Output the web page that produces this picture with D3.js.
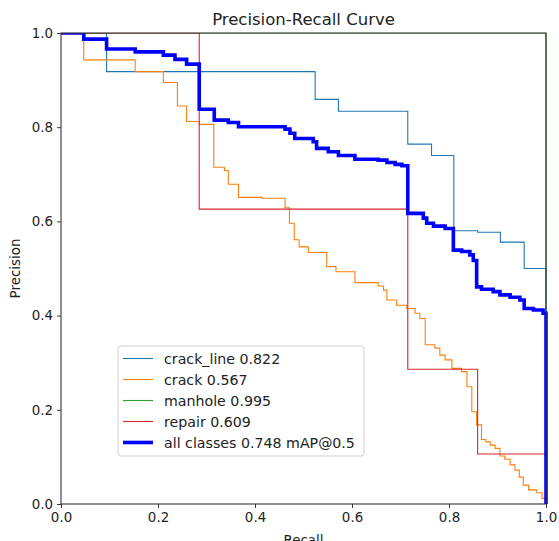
<!DOCTYPE html>
<html>
<head>
<meta charset="utf-8">
<script src="https://cdn.jsdelivr.net/npm/d3@7"></script>
<style>
  body { margin: 0; background: #fff; }
  svg { display: block; font-family: "DejaVu Sans", sans-serif; }
</style>
</head>
<body>
<svg id="grafico" width="559" height="541"></svg>
<script>
// Curvas PR: pares [recall, precision], cada ponto inicia um degrau
const crackLine = [[0, 1], [0.094, 0.918], [0.524, 0.859], [0.572, 0.834], [0.715, 0.764],
  [0.764, 0.740], [0.810, 0.580], [0.859, 0.577], [0.906, 0.556], [0.955, 0.500], [1.0, 0]];

const crack = [[0, 1], [0.047, 0.943], [0.153, 0.918], [0.211, 0.895], [0.240, 0.845],
  [0.259, 0.812], [0.285, 0.806], [0.315, 0.715], [0.337, 0.708], [0.345, 0.679],
  [0.366, 0.651], [0.414, 0.649], [0.462, 0.629], [0.471, 0.596], [0.481, 0.561],
  [0.491, 0.546], [0.510, 0.534], [0.548, 0.504], [0.567, 0.493], [0.606, 0.470],
  [0.654, 0.463], [0.665, 0.454], [0.672, 0.433], [0.692, 0.422], [0.713, 0.415],
  [0.730, 0.405], [0.740, 0.394], [0.751, 0.338], [0.771, 0.331], [0.781, 0.316],
  [0.792, 0.306], [0.806, 0.288], [0.826, 0.281], [0.837, 0.249], [0.847, 0.196],
  [0.857, 0.168], [0.867, 0.137], [0.876, 0.132], [0.885, 0.125], [0.895, 0.118],
  [0.905, 0.102], [0.915, 0.095], [0.926, 0.083], [0.936, 0.072], [0.945, 0.057],
  [0.953, 0.040], [0.964, 0.030], [0.981, 0.024], [0.992, 0.012], [1.0, 0]];

const manhole = [[0, 1], [1.0, 0]];

const repair = [[0, 1], [0.285, 0.626], [0.715, 0.286], [0.859, 0.106], [1.0, 0]];

const allClasses = [[0, 1], [0.047, 0.987], [0.094, 0.966], [0.153, 0.960], [0.211, 0.953],
  [0.235, 0.944], [0.259, 0.934], [0.285, 0.838], [0.316, 0.815], [0.345, 0.810],
  [0.366, 0.801], [0.462, 0.796], [0.472, 0.787], [0.482, 0.776], [0.520, 0.769],
  [0.527, 0.755], [0.551, 0.748], [0.572, 0.740], [0.606, 0.732], [0.654, 0.730],
  [0.672, 0.725], [0.689, 0.721], [0.703, 0.718], [0.715, 0.617], [0.747, 0.607],
  [0.754, 0.596], [0.768, 0.590], [0.792, 0.585], [0.809, 0.539], [0.826, 0.536],
  [0.843, 0.529], [0.850, 0.517], [0.857, 0.461], [0.867, 0.456], [0.891, 0.451],
  [0.905, 0.444], [0.926, 0.439], [0.946, 0.433], [0.955, 0.415], [0.974, 0.412],
  [0.994, 0.405], [1.0, 0]];

const series = [
  { nome: "crack_line 0.822", dados: crackLine, cor: "#1f77b4", largura: 1.1 },
  { nome: "crack 0.567", dados: crack, cor: "#ff7f0e", largura: 1.1 },
  { nome: "manhole 0.995", dados: manhole, cor: "#2ca02c", largura: 1.1 },
  { nome: "repair 0.609", dados: repair, cor: "#d62728", largura: 1.1 },
  { nome: "all classes 0.748 mAP@0.5", dados: allClasses, cor: "#0000ff", largura: 3.6 }
];

const ticks = [0, 0.2, 0.4, 0.6, 0.8, 1.0];

// Dimensões da área do gráfico
const margem = { esq: 61, dir: 546, topo: 33, base: 504 };

const svg = d3.select("#grafico");

const x = d3.scaleLinear().domain([0, 1]).range([margem.esq, margem.dir]);
const y = d3.scaleLinear().domain([0, 1]).range([margem.base, margem.topo]);

// Recorte da área do gráfico (um pouco mais largo à direita)
svg.append("defs").append("clipPath")
  .attr("id", "area")
  .append("rect")
  .attr("x", margem.esq)
  .attr("y", margem.topo)
  .attr("width", margem.dir - margem.esq + 2)
  .attr("height", margem.base - margem.topo);

// Curvas
const linha = d3.line()
  .x(d => x(d[0]))
  .y(d => y(d[1]))
  .curve(d3.curveStepAfter);

svg.append("g")
  .attr("clip-path", "url(#area)")
  .selectAll("path")
  .data(series)
  .enter()
  .append("path")
  .attr("d", d => linha(d.dados))
  .attr("fill", "none")
  .attr("stroke", d => d.cor)
  .attr("stroke-width", d => d.largura)
  .attr("stroke-linejoin", "miter");

// Eixos
const eixoX = svg.append("g")
  .attr("transform", `translate(0,${margem.base})`)
  .call(d3.axisBottom(x).tickValues(ticks).tickFormat(d3.format(".1f")).tickSize(4).tickPadding(4));

const eixoY = svg.append("g")
  .attr("transform", `translate(${margem.esq},0)`)
  .call(d3.axisLeft(y).tickValues(ticks).tickFormat(d3.format(".1f")).tickSize(4).tickPadding(4));

[eixoX, eixoY].forEach(g => {
  g.select(".domain").remove();
  g.selectAll("line").attr("stroke", "#222").attr("stroke-width", 0.9);
  g.selectAll("text")
    .attr("fill", "#222")
    .style("font-family", "DejaVu Sans")
    .style("font-size", "13.4px");
});

// Moldura
svg.append("rect")
  .attr("x", margem.esq)
  .attr("y", margem.topo)
  .attr("width", margem.dir - margem.esq)
  .attr("height", margem.base - margem.topo)
  .attr("fill", "none")
  .attr("stroke", "#333")
  .attr("stroke-width", 1.1);

// Títulos
svg.append("text")
  .attr("x", (margem.esq + margem.dir) / 2)
  .attr("y", 25)
  .attr("text-anchor", "middle")
  .style("font-size", "16.5px")
  .attr("fill", "#222")
  .text("Precision-Recall Curve");

svg.append("text")
  .attr("x", (margem.esq + margem.dir) / 2)
  .attr("y", 545)
  .attr("text-anchor", "middle")
  .style("font-size", "13.4px")
  .attr("fill", "#222")
  .text("Recall");

svg.append("text")
  .attr("transform", `translate(20,${(margem.topo + margem.base) / 2}) rotate(-90)`)
  .attr("text-anchor", "middle")
  .style("font-size", "13.4px")
  .attr("fill", "#222")
  .text("Precision");

// Legenda
const legenda = svg.append("g").attr("transform", "translate(118,346)");

legenda.append("rect")
  .attr("width", 246)
  .attr("height", 110)
  .attr("rx", 3)
  .attr("fill", "#fff")
  .attr("fill-opacity", 0.8)
  .attr("stroke", "#d0d0d0")
  .attr("stroke-width", 1);

const itens = legenda.selectAll(".item")
  .data(series)
  .enter()
  .append("g")
  .attr("class", "item")
  .attr("transform", (d, i) => `translate(0,${12.5 + i * 21})`);

itens.append("line")
  .attr("x1", 5).attr("x2", 35)
  .attr("stroke", d => d.cor)
  .attr("stroke-width", d => d.largura);

itens.append("text")
  .attr("x", 46)
  .attr("dy", "0.36em")
  .style("font-size", "14.2px")
  .attr("fill", "#222")
  .text(d => d.nome);
</script>
</body>
</html>
